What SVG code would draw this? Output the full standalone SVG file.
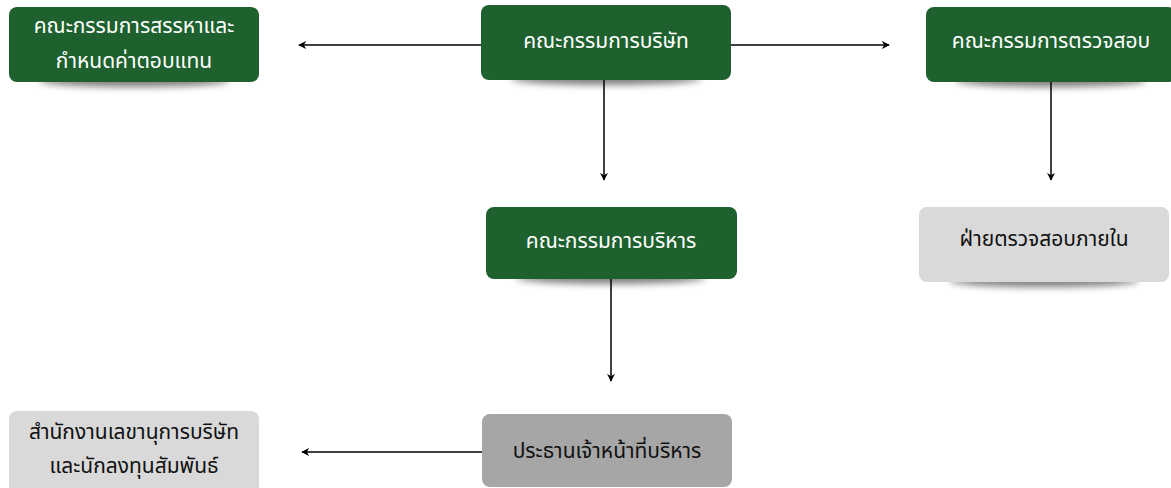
<svg xmlns="http://www.w3.org/2000/svg" width="1171" height="488" viewBox="0 0 1171 488">
  <defs>
    <filter id="sh" x="-20%" y="-200%" width="140%" height="500%">
      <feGaussianBlur stdDeviation="3.5"/>
    </filter>
    <marker id="ah" viewBox="0 0 10 10" refX="9" refY="5" markerWidth="8" markerHeight="8" markerUnits="userSpaceOnUse" orient="auto">
      <path d="M0,0 L10,5 L0,10 L3,5 Z" fill="#000"/>
    </marker>
  </defs>
  <style>
    .shadow { fill: #000; opacity: 0.5; filter: url(#sh); }
    .green { fill: #1e612e; }
    .light { fill: #d9d9d9; }
    .mid { fill: #a6a6a6; }
    text { font-family: "Noto Sans Thai", "Noto Sans", "DejaVu Sans", sans-serif; font-size: 21px; text-anchor: middle; }
    .w { fill: #ffffff; }
    .k { fill: #111111; }
    .conn line { stroke: #000; stroke-width: 1.5; fill: none; marker-end: url(#ah); }
  </style>
  <rect width="1171" height="488" fill="#ffffff"/>

  <g id="connectors" class="conn">
    <line x1="481" y1="45" x2="299" y2="45"/>
    <line x1="731" y1="45" x2="889" y2="45"/>
    <line x1="604" y1="80" x2="604" y2="180"/>
    <line x1="1051" y1="82" x2="1051" y2="180"/>
    <line x1="611" y1="279" x2="611" y2="381"/>
    <line x1="482" y1="452" x2="302" y2="452"/>
  </g>

  <g id="node-nomination">
    <ellipse class="shadow" cx="134" cy="81" rx="95" ry="6"/>
    <rect class="green" x="9" y="7" width="250" height="75" rx="8"/>
    <text class="w" x="134" y="33">คณะกรรมการสรรหาและ</text>
    <text class="w" x="134" y="68">กำหนดค่าตอบแทน</text>
  </g>

  <g id="node-board">
    <ellipse class="shadow" cx="606" cy="79" rx="95" ry="6"/>
    <rect class="green" x="481" y="5" width="250" height="75" rx="8"/>
    <text class="w" x="606" y="48">คณะกรรมการบริษัท</text>
  </g>

  <g id="node-audit">
    <ellipse class="shadow" cx="1051" cy="81" rx="95" ry="6"/>
    <rect class="green" x="926" y="7" width="250" height="75" rx="8"/>
    <text class="w" x="1051" y="48">คณะกรรมการตรวจสอบ</text>
  </g>

  <g id="node-executive">
    <ellipse class="shadow" cx="611" cy="278" rx="95" ry="6"/>
    <rect class="green" x="486" y="207" width="251" height="72" rx="8"/>
    <text class="w" x="611" y="248">คณะกรรมการบริหาร</text>
  </g>

  <g id="node-internal-audit">
    <ellipse class="shadow" cx="1044" cy="281" rx="95" ry="6"/>
    <rect class="light" x="919" y="207" width="250" height="75" rx="8"/>
    <text class="k" x="1044" y="246">ฝ่ายตรวจสอบภายใน</text>
  </g>

  <g id="node-secretary">
    <rect class="light" x="9" y="411" width="250" height="85" rx="8"/>
    <text class="k" x="134" y="439">สำนักงานเลขานุการบริษัท</text>
    <text class="k" x="134" y="473">และนักลงทุนสัมพันธ์</text>
  </g>

  <g id="node-ceo">
    <rect class="mid" x="482" y="414" width="250" height="73" rx="8"/>
    <text class="k" x="607" y="458">ประธานเจ้าหน้าที่บริหาร</text>
  </g>
</svg>
